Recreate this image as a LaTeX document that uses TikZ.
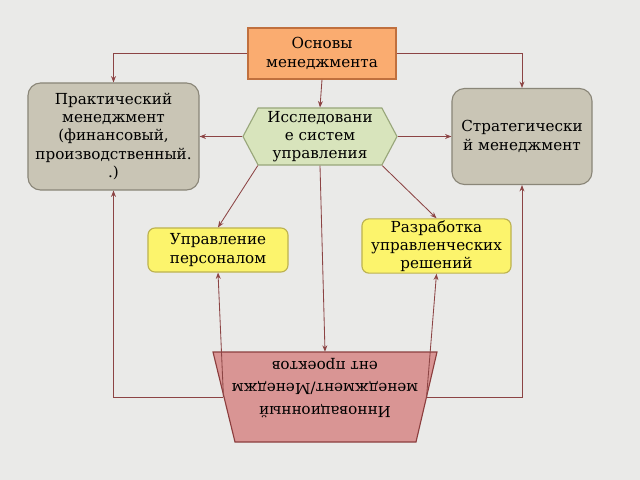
\documentclass[tikz,border=0pt]{standalone}
\usepackage{fontspec}
\setmainfont{DejaVu Serif}
\usetikzlibrary{shapes.symbols,arrows.meta}

\definecolor{bgcol}{RGB}{234,234,232}
\definecolor{linkred}{RGB}{140,68,68}
\definecolor{osnfill}{RGB}{250,172,112}
\definecolor{osnline}{RGB}{192,112,62}
\definecolor{grayfill}{RGB}{201,197,181}
\definecolor{grayline}{RGB}{138,134,120}
\definecolor{hexfill}{RGB}{216,228,188}
\definecolor{hexline}{RGB}{152,166,122}
\definecolor{yelfill}{RGB}{252,244,108}
\definecolor{yelline}{RGB}{188,178,80}
\definecolor{trapfill}{RGB}{217,149,148}
\definecolor{trapline}{RGB}{140,62,62}

\begin{document}
\begin{tikzpicture}[x=0.025cm,y=-0.025cm,
  font=\fontsize{10.8}{13}\selectfont,
  >={Stealth[length=4.5pt,width=3.5pt]},
  box/.style={draw, line width=0.8pt, align=center, inner sep=1pt},
  graybox/.style={box, rounded corners=9pt, fill=grayfill, draw=grayline},
  yelbox/.style={box, rounded corners=5pt, fill=yelfill, draw=yelline},
  link/.style={->, draw=linkred, line width=0.6pt}]

% Background
\fill[bgcol] (0,0) rectangle (640,480);

% Top box
\node[box, fill=osnfill, draw=osnline, minimum width=3.7cm, minimum height=1.275cm]
  (osn) at (322,53.5) {Основы\\менеджмента};

% Side boxes
\node[graybox, minimum width=4.275cm, minimum height=2.675cm]
  (prakt) at (113.5,136.5) {Практический\\менеджмент\\(финансовый,\\производственный.\\.)};
\node[graybox, minimum width=3.5cm, minimum height=2.4cm]
  (strat) at (522,136.5) {Стратегически\\й менеджмент};

% Hexagon
\node[box, signal, signal to=east and west, signal pointer angle=124,
  fill=hexfill, draw=hexline, minimum width=3.85cm, minimum height=1.425cm, inner sep=0pt]
  (issl) at (320,136.5) {Исследовани\\е систем\\управления};

% Yellow boxes
\node[yelbox, minimum width=3.5cm, minimum height=1.1cm]
  (upr) at (218,250) {Управление\\персоналом};
\node[yelbox, minimum width=3.725cm, minimum height=1.35cm]
  (razr) at (436.5,246) {Разработка\\управленческих\\решений};

% Bottom trapezium, text upside down
\filldraw[fill=trapfill, draw=trapline, line width=0.8pt]
  (213,352) -- (437,352) -- (416,442) -- (235,442) -- cycle;
\node[inner sep=0pt, minimum width=5.0625cm, minimum height=2.25cm, rotate=180]
  (trap) at (325,397) {};
\node[align=center, inner sep=0pt, rotate=180, font=\fontsize{10.8}{16}\selectfont]
  (traptext) at (325,388) {Инновационный\\менеджмент/Менеджм\\ент проектов};

% Arrows
\draw[link] (osn.west) -| (prakt.north);
\draw[link] (osn.east) -| (strat.north);
\draw[link] (osn.south) -- (issl.north);
\draw[link] (issl.west) -- (prakt.east);
\draw[link] (issl.east) -- (strat.west);
\draw[link] (issl.south west) -- (upr.north);
\draw[link] (issl.south) -- (trap.south);
\draw[link] (issl.south east) -- (razr.north);
\draw[link] (trap.east) -| (prakt.south);
\draw[link] (trap.west) -| (strat.south);
\draw[link] (trap.east) -- (upr.south);
\draw[link] (trap.west) -- (razr.south);
\end{tikzpicture}
\end{document}
